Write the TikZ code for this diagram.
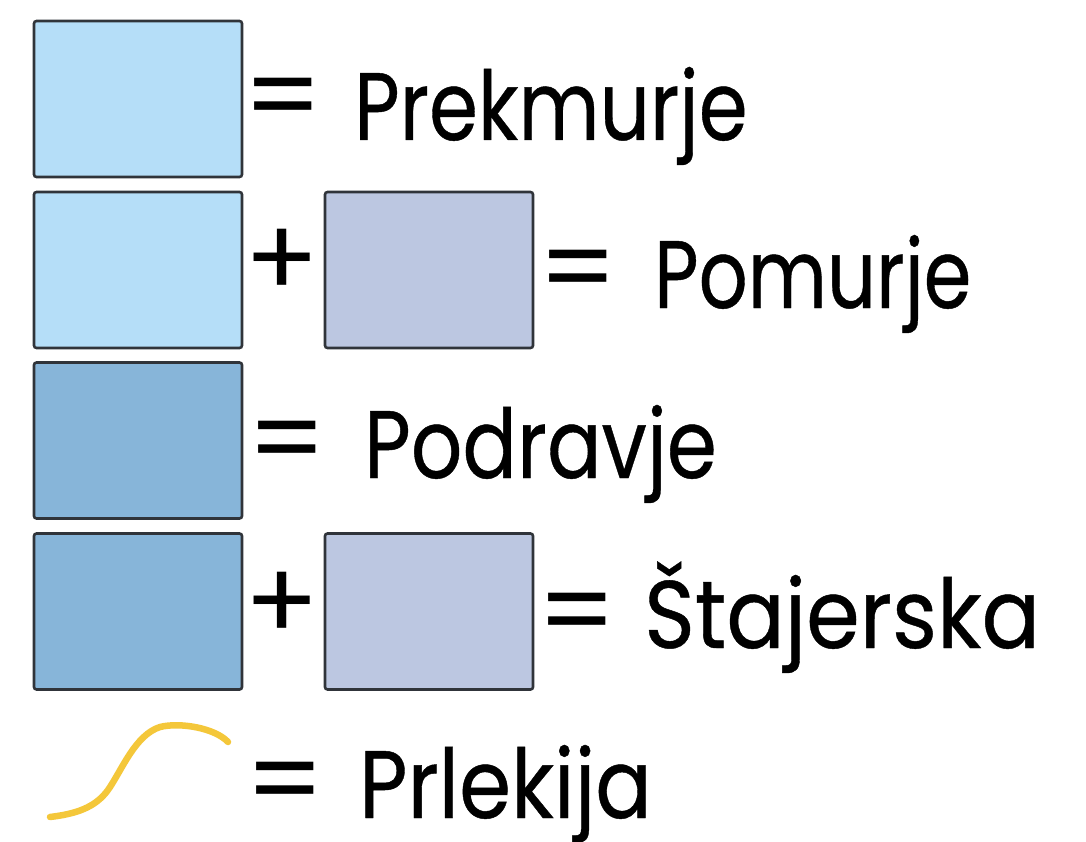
\documentclass[tikz,border=0pt]{standalone}
\usepackage{fontspec}
\setmainfont[FakeBold=0.45]{Poppins}
\newfontfamily\symfont{Poppins}
\definecolor{prekblue}{HTML}{B5DEF8}
\definecolor{lavender}{HTML}{BCC7E1}
\definecolor{podblue}{HTML}{87B5D9}
\definecolor{edgegrey}{HTML}{30343A}
\definecolor{prlgold}{HTML}{F4C73A}
\tikzset{
  swatch/.style={draw=edgegrey, line width=2.6pt, rounded corners=2.5pt,
    minimum width=208pt, minimum height=156pt, inner sep=0pt},
  label/.style={anchor=base west, inner sep=0pt,
    font=\fontsize{96}{110}\selectfont},
  sym/.style={anchor=base, inner sep=0pt,
    font=\symfont\fontsize{110}{120}\selectfont},
}
\begin{document}
\begin{tikzpicture}[x=1pt,y=-1pt]
\useasboundingbox (0,0) rectangle (1086,842);
\fill[white] (0,0) rectangle (1086,842);

% row 1
\node[swatch, fill=prekblue] (r1a) at (138,99) {};
\node[sym] (eq1) at (283,135) {=};
\node[label, xscale=0.82] (t1) at (354,140) {Prekmurje};

% row 2
\node[swatch, fill=prekblue] (r2a) at (138,270) {};
\node[sym] (pl2) at (282,297) {+};
\node[swatch, fill=lavender] (r2b) at (429,270) {};
\node[sym] (eq2) at (578,306) {=};
\node[label, xscale=0.80] (t2) at (654,308) {Pomurje};

% row 3
\node[swatch, fill=podblue] (r3a) at (138,440.5) {};
\node[sym] (eq3) at (287,477) {=};
\node[label, xscale=0.84] (t3) at (364,478) {Podravje};

% row 4
\node[swatch, fill=podblue] (r4a) at (138,611.5) {};
\node[sym] (pl4) at (282,640) {+};
\node[swatch, fill=lavender] (r4b) at (429,611.5) {};
\node[sym] (eq4) at (577,649) {=};
\node[label, xscale=0.90] (t4) at (644,648) {Štajerska};

% row 5: Prlekija boundary line
\draw[prlgold, line width=6.5pt, line cap=round, line join=round]
  (50,817) .. controls (75,814) and (95,808) .. (108,790)
  .. controls (122,770) and (135,735) .. (160,727)
  .. controls (180,722) and (215,728) .. (228,742);
\node[sym] (eq5) at (285,818) {\smash{=}};
\node[label, xscale=0.87] (t5) at (359,818) {\smash{Prlekija}};
\end{tikzpicture}
\end{document}
